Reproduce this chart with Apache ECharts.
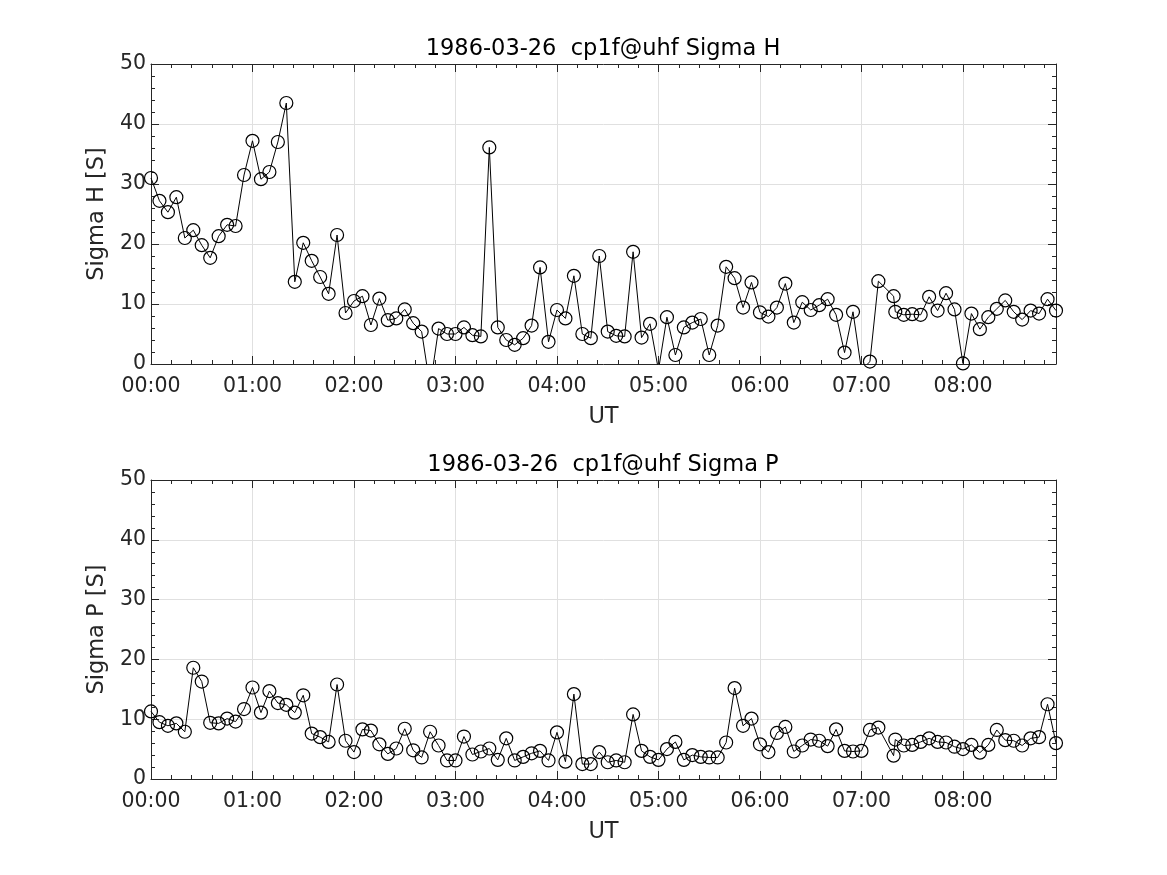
<!DOCTYPE html>
<html>
<head>
<meta charset="utf-8">
<script src="https://cdn.jsdelivr.net/npm/echarts@6/dist/echarts.min.js"></script>
<style>
html,body{margin:0;padding:0;background:#fff;}
#chart{width:1167px;height:875px;}
</style>
</head>
<body>
<div id="chart"></div>
<script>
// Time of each sample, minutes after 00:00 UT
const utMinutes = [
  0,5,10,15,20,25,30,35,40,45,50,55,
  60,65,70,75,80,85,90,95,100,105,110,115,
  120,125,130,135,140,145,150,155,160,165,170,175,
  180,185,190,195,200,205,210,215,220,225,230,235,
  240,245,250,255,260,265,270,275,280,285,290,295,
  300,305,310,315,320,325,330,335,340,345,350,355,
  360,365,370,375,380,385,390,395,400,405,410,415,
  420,425,430,439,440,445,450,455,460,465,470,475,
  480,485,490,495,500,505,510,515,520,525,530,535
];
// Sigma H [S]
const sigmaH = [
  31.0,27.2,25.3,27.8,21.0,22.3,19.8,17.7,21.3,23.2,23.0,31.5,
  37.2,30.8,32.0,37.0,43.5,13.7,20.2,17.2,14.5,11.7,21.5,8.5,
  10.5,11.3,6.5,10.9,7.3,7.6,9.1,6.8,5.4,-3.8,5.9,5.0,
  5.0,6.1,4.8,4.6,36.1,6.1,4.0,3.2,4.3,6.4,16.1,3.7,
  9.0,7.6,14.7,5.0,4.3,18.0,5.4,4.7,4.6,18.7,4.4,6.7,
  -1.0,7.8,1.5,6.1,6.9,7.5,1.5,6.4,16.2,14.3,9.4,13.6,
  8.6,7.9,9.4,13.4,6.9,10.3,9.0,9.8,10.8,8.2,1.9,8.7,
  -1.0,0.4,13.8,11.3,8.7,8.2,8.3,8.2,11.2,8.9,11.8,9.1,
  0.1,8.4,5.8,7.8,9.2,10.6,8.7,7.4,8.9,8.4,10.8,8.9
];
// Sigma P [S]
const sigmaP = [
  11.3,9.5,8.9,9.3,7.9,18.6,16.3,9.4,9.3,10.1,9.6,11.7,
  15.3,11.1,14.7,12.7,12.4,11.1,14.0,7.6,7.0,6.2,15.8,6.4,
  4.5,8.3,8.1,5.8,4.2,5.1,8.4,4.8,3.6,7.9,5.6,3.1,
  3.1,7.1,4.1,4.6,5.1,3.2,6.8,3.1,3.7,4.3,4.7,3.1,
  7.8,2.9,14.2,2.5,2.5,4.5,2.8,3.1,2.8,10.8,4.7,3.7,
  3.2,5.0,6.2,3.2,4.0,3.7,3.6,3.6,6.1,15.2,8.9,10.1,
  5.8,4.5,7.7,8.7,4.6,5.6,6.6,6.4,5.5,8.3,4.7,4.6,
  4.7,8.2,8.6,3.9,6.6,5.6,5.7,6.2,6.8,6.2,6.1,5.4,
  5.0,5.7,4.4,5.7,8.2,6.5,6.4,5.6,6.8,7.0,12.5,6.0
];
const titles = ['1986-03-26  cp1f@uhf Sigma H', '1986-03-26  cp1f@uhf Sigma P'];
const yNames = ['Sigma H [S]', 'Sigma P [S]'];
const xName = 'UT';
const xMin = 0, xMax = 535, xStep = 60;
const yMin = 0, yMax = 50, yStep = 10;

const FONT = 'DejaVu Sans';
const INK = '#262626';
const TICK_FS = 20.5, LABEL_FS = 22.5;

function fmtTime(v) {
  if (v % 60 !== 0) return '';
  const h = Math.floor(v / 60);
  return (h < 10 ? '0' : '') + h + ':00';
}

const grids = [
  {left: 151, top: 64, width: 905, height: 300},
  {left: 151, top: 480, width: 905, height: 299}
];

const xAxes = [], yAxes = [], series = [], titleList = [];
[sigmaH, sigmaP].forEach((vals, g) => {
  const tick = {show: true, inside: true, length: 8, lineStyle: {color: INK, width: 1}};
  const minor = {show: true, splitNumber: 5, length: 4, lineStyle: {color: INK, width: 1}};
  const line = {show: true, onZero: false, lineStyle: {color: INK, width: 1}};
  xAxes.push({
    gridIndex: g, type: 'value', position: 'bottom', min: xMin, max: xMax, interval: xStep,
    axisLine: line, axisTick: tick, minorTick: minor,
    axisLabel: {show: true, formatter: fmtTime, fontFamily: FONT, fontSize: TICK_FS, color: INK, margin: 12, showMaxLabel: false},
    splitLine: {show: true, lineStyle: {color: '#e0e0e0', width: 1}},
    name: xName, nameLocation: 'middle', nameGap: 42,
    nameTextStyle: {fontFamily: FONT, fontSize: LABEL_FS, color: INK}
  });
  xAxes.push({
    gridIndex: g, type: 'value', position: 'top', min: xMin, max: xMax, interval: xStep,
    axisLine: line, axisTick: tick, minorTick: minor,
    axisLabel: {show: false}, splitLine: {show: false}
  });
  yAxes.push({
    gridIndex: g, type: 'value', position: 'left', min: yMin, max: yMax, interval: yStep,
    axisLine: line, axisTick: tick, minorTick: minor,
    axisLabel: {show: true, fontFamily: FONT, fontSize: TICK_FS, color: INK, margin: 5},
    splitLine: {show: true, lineStyle: {color: '#e0e0e0', width: 1}},
    name: yNames[g], nameLocation: 'middle', nameGap: 41,
    nameTextStyle: {fontFamily: FONT, fontSize: LABEL_FS, color: INK}
  });
  yAxes.push({
    gridIndex: g, type: 'value', position: 'right', min: yMin, max: yMax, interval: yStep,
    axisLine: line, axisTick: tick, minorTick: minor,
    axisLabel: {show: false}, splitLine: {show: false}
  });
  series.push({
    type: 'line', xAxisIndex: g * 2, yAxisIndex: g * 2,
    data: utMinutes.map((t, i) => [t, vals[i]]),
    clip: true, symbol: 'circle', symbolSize: 13, showSymbol: true, showAllSymbol: true,
    lineStyle: {color: '#000', width: 1},
    itemStyle: {color: 'transparent', borderColor: '#000', borderWidth: 1.2},
    emphasis: {disabled: true}
  });
  titleList.push({
    text: titles[g], left: 598, top: g === 0 ? 33 : 449, textAlign: 'center',
    textStyle: {fontFamily: FONT, fontSize: LABEL_FS, fontWeight: 'normal', color: '#000'}
  });
});

const chart = echarts.init(document.getElementById('chart'), null, {renderer: 'canvas'});
chart.setOption({
  animation: false,
  backgroundColor: '#fff',
  title: titleList,
  grid: grids,
  xAxis: xAxes,
  yAxis: yAxes,
  series: series
});
</script>
</body>
</html>
